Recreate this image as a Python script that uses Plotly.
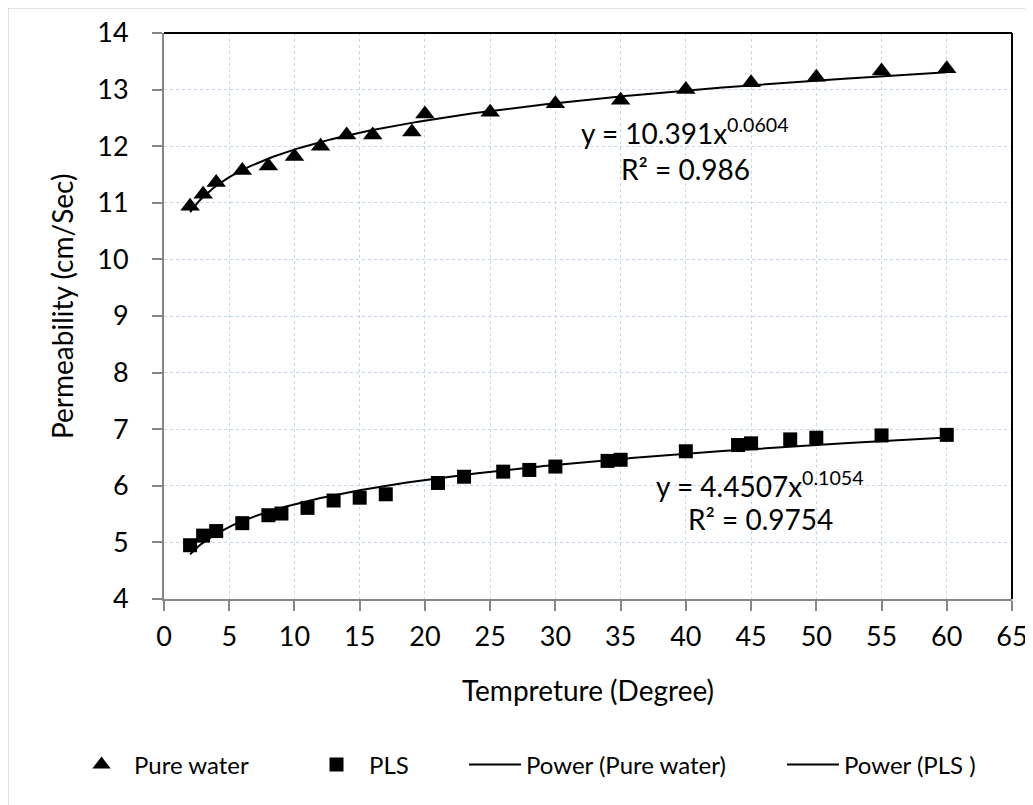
import numpy as np
import plotly.graph_objects as go

# ---- data ----
pw_x = [2, 3, 4, 6, 8, 10, 12, 14, 16, 19, 20, 25, 30, 35, 40, 45, 50, 55, 60]
pw_y = [10.94, 11.15, 11.36, 11.57, 11.65, 11.82, 12.0, 12.2, 12.2, 12.25, 12.57, 12.6, 12.75, 12.81, 13.0, 13.12, 13.22, 13.33, 13.37]

pls_x = [2, 3, 4, 6, 8, 9, 11, 13, 15, 17, 21, 23, 26, 28, 30, 34, 35, 40, 44, 45, 48, 50, 55, 60]
pls_y = [4.95, 5.12, 5.2, 5.34, 5.48, 5.51, 5.61, 5.74, 5.79, 5.85, 6.05, 6.16, 6.25, 6.28, 6.34, 6.44, 6.46, 6.61, 6.72, 6.75, 6.82, 6.85, 6.89, 6.9]

# power trendline coefficients (y = a * x^b) as printed on the chart
pw_a, pw_b, pw_r2 = 10.391, 0.0604, "0.986"
pls_a, pls_b, pls_r2 = 4.4507, 0.1054, "0.9754"

x_ticks = list(range(0, 70, 5))
y_ticks = list(range(4, 15, 1))

FONT = "Lato, 'Open Sans', sans-serif"

# page body adds an 8px offset; figure is sized so the plot lands where the reference has it
W, H = 1025, 797
ML, MR, MT, MB = 156, 21, 25, 206
PW, PH = W - ML - MR, H - MT - MB   # 848 x 566


def trend(a, b, xs):
    xx = np.linspace(min(xs), max(xs), 200)
    return xx, a * xx ** b


def px_x(sx):  # screen x -> paper
    return (sx - 8 - ML) / PW


def px_y(sy):  # screen y -> paper
    return 1 - (sy - 8 - MT) / PH


def cx(sx):  # screen x -> container
    return (sx - 8) / W


def cy(sy):  # screen y -> container
    return 1 - (sy - 8) / H


fig = go.Figure()
fig.add_trace(go.Scatter(x=pw_x, y=pw_y, mode="markers", name="Pure water", legend="legend",
                         marker=dict(symbol="triangle-up", size=17, color="black")))
fig.add_trace(go.Scatter(x=pls_x, y=pls_y, mode="markers", name="PLS", legend="legend2",
                         marker=dict(symbol="square", size=14, color="black")))
tx, ty = trend(pw_a, pw_b, pw_x)
fig.add_trace(go.Scatter(x=tx, y=ty, mode="lines", name="Power (Pure water)", legend="legend3",
                         line=dict(color="black", width=2)))
tx2, ty2 = trend(pls_a, pls_b, pls_x)
fig.add_trace(go.Scatter(x=tx2, y=ty2, mode="lines", name="Power (PLS )", legend="legend4",
                         line=dict(color="black", width=2)))

grid = "#c6d6ee"
fig.update_xaxes(range=[0, 65], tickvals=x_ticks, showgrid=True, gridcolor=grid, griddash="dot",
                 gridwidth=1, showline=True, linecolor="#868686", linewidth=2,
                 ticks="outside", ticklen=10, tickcolor="#868686", tickwidth=2,
                 tickfont=dict(family=FONT, size=27, color="black"), ticklabelstandoff=3,
                 zeroline=False, automargin=False,
                 title=dict(text="Tempreture (Degree)", font=dict(family=FONT, size=28, color="black"), standoff=30))
fig.update_yaxes(range=[4, 14], tickvals=y_ticks, showgrid=True, gridcolor=grid, griddash="dot",
                 gridwidth=1, showline=True, linecolor="#868686", linewidth=2,
                 ticks="outside", ticklen=10, tickcolor="#868686", tickwidth=2,
                 tickfont=dict(family=FONT, size=27, color="black"), ticklabelstandoff=18,
                 zeroline=False, automargin=False)

# y-axis title placed as rotated text where the reference has it
fig.add_annotation(x=px_x(62), y=px_y(307), xref="paper", yref="paper",
                   xanchor="center", yanchor="middle", textangle=-90,
                   text="Permeability (cm/Sec)", showarrow=False,
                   font=dict(family=FONT, size=28, color="black"))

# black top and right plot-area border
fig.add_shape(type="line", xref="paper", yref="paper", x0=0, x1=1, y0=1, y1=1,
              line=dict(color="black", width=2))
fig.add_shape(type="line", xref="paper", yref="paper", x0=1, x1=1, y0=0, y1=1,
              line=dict(color="black", width=2))
# outer chart frame (left/top visible)
fig.add_shape(type="rect", xref="paper", yref="paper",
              x0=px_x(7.5), x1=px_x(1045), y0=px_y(815), y1=px_y(7.5),
              line=dict(color="#8c8c8c", width=1.5), layer="below")

ann_font = dict(family=FONT, size=28, color="black")
ann_common = dict(xref="paper", yref="paper", xanchor="center", yanchor="middle",
                  showarrow=False, font=ann_font)
fig.add_annotation(x=px_x(685), y=px_y(131), text=f"y = {pw_a}x<sup>{pw_b}</sup>", **ann_common)
fig.add_annotation(x=px_x(685), y=px_y(169), text=f"R² = {pw_r2}", **ann_common)
fig.add_annotation(x=px_x(760), y=px_y(484), text=f"y = {pls_a}x<sup>{pls_b}</sup>", **ann_common)
fig.add_annotation(x=px_x(760), y=px_y(519), text=f"R² = {pls_r2}", **ann_common)

leg_font = dict(family=FONT, size=24, color="black")
leg_common = dict(orientation="h", xref="container", yref="container", xanchor="left",
                  yanchor="middle", font=leg_font, bgcolor="rgba(0,0,0,0)", borderwidth=0)
leg_y = cy(765)

fig.update_layout(
    width=W, height=H,
    margin=dict(l=ML, r=MR, t=MT, b=MB, autoexpand=False),
    paper_bgcolor="white", plot_bgcolor="white",
    showlegend=True,
    legend=dict(x=cx(69), y=leg_y, itemwidth=55, **leg_common),
    legend2=dict(x=cx(304), y=leg_y, itemwidth=55, **leg_common),
    legend3=dict(x=cx(464), y=leg_y, itemwidth=52, **leg_common),
    legend4=dict(x=cx(782), y=leg_y, itemwidth=52, **leg_common),
)

fig.write_html("out.html")
